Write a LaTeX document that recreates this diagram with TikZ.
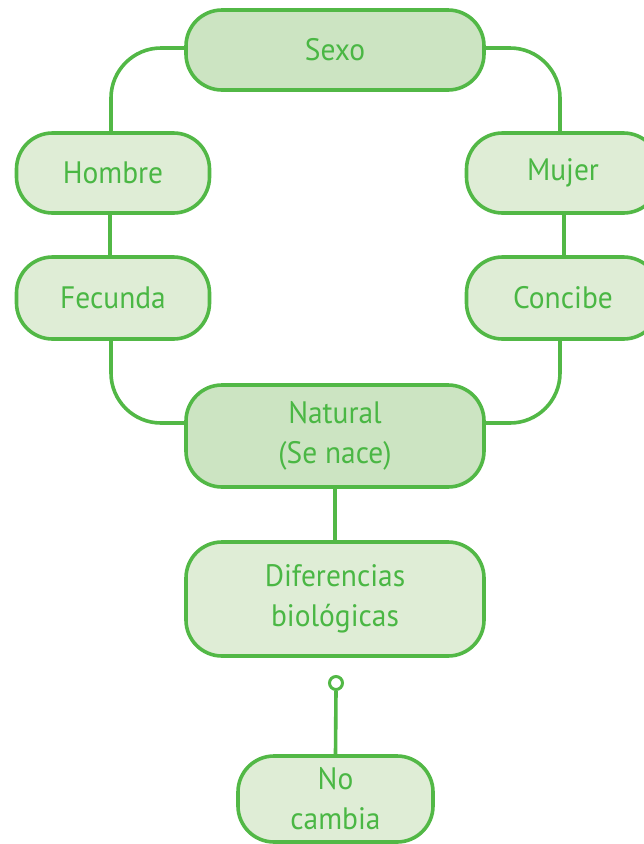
\documentclass[tikz,border=0pt]{standalone}
\usepackage{fontspec}
\setmainfont[FakeStretch=0.95]{PT Sans}
\usetikzlibrary{calc}
\definecolor{gline}{HTML}{52B846}
\definecolor{gtext}{HTML}{4AB744}
\definecolor{gdark}{HTML}{CCE4C2}
\definecolor{glight}{HTML}{DFEDD6}
\tikzset{
  box/.style={draw=gline, line width=3.6pt, rounded corners=36pt, rectangle,
    inner sep=0pt, align=center, text=gtext,
    font=\fontsize{31}{40}\selectfont},
  dbox/.style={box, fill=gdark},
  lbox/.style={box, fill=glight},
  conn/.style={draw=gline, line width=3.6pt},
}
\begin{document}
\begin{tikzpicture}[x=1pt,y=-1pt]
\useasboundingbox (0,0) rectangle (644,844);
\clip (0,0) rectangle (644,844);
\node[dbox, minimum width=298pt, minimum height=80pt] (sexo) at (335,50) {Sexo};
\node[lbox, minimum width=193pt, minimum height=80pt] (hombre) at (113,173) {Hombre};
\node[lbox, minimum width=193pt, minimum height=82pt] (fecunda) at (113,298) {Fecunda};
\node[lbox, minimum width=193pt, minimum height=80pt] (mujer) at (563,173) {Mujer};
\node[lbox, minimum width=193pt, minimum height=82pt] (concibe) at (563,298) {Concibe};
\node[dbox, minimum width=298pt, minimum height=102pt] (natural) at (335,436) {Natural\\(Se nace)};
\node[lbox, minimum width=298pt, minimum height=114pt] (dif) at (335,599) {Diferencias\\biológicas};
\node[lbox, minimum width=195pt, minimum height=86pt] (nocambia) at (335.5,799) {No\\cambia};
\node[circle, draw=gline, line width=3pt, fill=white, minimum size=13pt, inner sep=0pt] (dot) at (336,683) {};

\coordinate (sw) at ($(sexo.west)+(0,-2)$);
\coordinate (se) at ($(sexo.east)+(0,-2)$);
\coordinate (nw) at ($(natural.west)+(0,-13)$);
\coordinate (ne) at ($(natural.east)+(0,-13)$);
\coordinate (ht) at ($(hombre.north)+(-2,0)$);
\coordinate (mt) at ($(mujer.north)+(-3,0)$);
\coordinate (fb) at ($(fecunda.south)+(-2,0)$);
\coordinate (cb) at ($(concibe.south)+(-3,0)$);

\draw[conn, rounded corners=50pt] (sw) -| (ht);
\draw[conn, rounded corners=50pt] (se) -| (mt);
\draw[conn] ($(hombre.south)+(-3,0)$) -- ($(fecunda.north)+(-3,0)$);
\draw[conn] ($(mujer.south)+(1,0)$) -- ($(concibe.north)+(1,0)$);
\draw[conn, rounded corners=50pt] (fb) |- (nw);
\draw[conn, rounded corners=50pt] (cb) |- (ne);
\draw[conn] (natural.south) -- (dif.north);
\draw[conn] (dot.south) -- (nocambia.north);
\end{tikzpicture}
\end{document}
